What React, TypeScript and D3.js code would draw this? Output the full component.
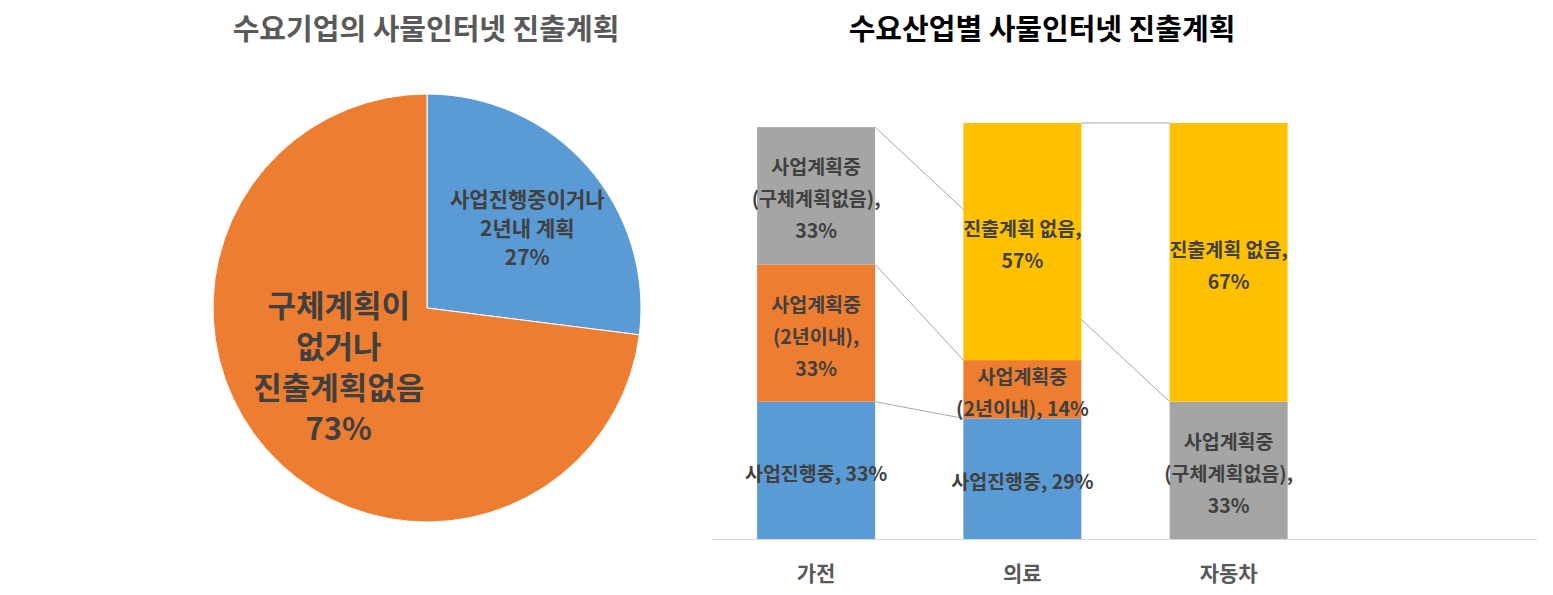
import React from "react";
import * as d3 from "d3";

const W = 1553;
const H = 595;
const FONT = "'Noto Sans CJK KR', 'Noto Sans', sans-serif";

// Left pie
const pieTitle = "수요기업의 사물인터넷 진출계획";
const pieNames = ["사업진행중이거나 2년내 계획", "구체계획이 없거나 진출계획없음"];
const pieValues = [27, 73];
const pieLabelLines = [
  ["사업진행중이거나", "2년내 계획", "27%"],
  ["구체계획이", "없거나", "진출계획없음", "73%"],
];
const pieColors = ["#5B9BD5", "#ED7D31"];

// Right stacked bars
const barTitle = "수요산업별 사물인터넷 진출계획";
const categories = ["가전", "의료", "자동차", ""];
const seriesNames = ["사업진행중", "사업계획중(2년이내)", "사업계획중(구체계획없음)", "진출계획 없음"];
const seriesColors = ["#5B9BD5", "#ED7D31", "#A5A5A5", "#FFC000"];
const sProgress: (number | null)[] = [33, 29, null, null];
const sPlan2y: (number | null)[] = [33, 14, null, null];
const sPlanVague: (number | null)[] = [33, null, 33, null];
const sNoPlan: (number | null)[] = [null, 57, 67, null];
const seriesValues = [sProgress, sPlan2y, sPlanVague, sNoPlan];
const labelLines: (string[] | null)[][] = [
  [["사업진행중, 33%"], ["사업진행중, 29%"], null, null],
  [["사업계획중", "(2년이내),", "33%"], ["사업계획중", "(2년이내), 14%"], null, null],
  [["사업계획중", "(구체계획없음),", "33%"], null, ["사업계획중", "(구체계획없음),", "33%"], null],
  [null, ["진출계획 없음,", "57%"], ["진출계획 없음,", "67%"], null],
];

export default function App() {
  // Pie
  const cx = 427, cy = 308, r = 214;
  const pie = d3.pie<number>().sort(null).value((d) => d);
  const arcs = pie(pieValues);
  const arcGen = d3.arc<d3.PieArcDatum<number>>().innerRadius(0).outerRadius(r);
  const labelRadius = [0.6 * r, 0.5 * r];

  // Bars
  const x = d3.scaleBand<string>().domain(categories.map((c, i) => i + "")).range([713, 1538]).paddingInner(0.428).paddingOuter(0.214);
  const y = d3.scaleLinear().domain([0, 100]).range([539, 123]);
  const bw = x.bandwidth();

  // stacked
  const stacks: { y0: number; y1: number; v: number | null }[][] = seriesValues.map(() => []);
  categories.forEach((_, ci) => {
    let acc = 0;
    seriesValues.forEach((s, si) => {
      const v = s[ci];
      const y0 = acc;
      acc += v ?? 0;
      stacks[si][ci] = { y0, y1: acc, v };
    });
  });

  // series lines: connect top of each series between categories where defined
  const seriesLines: { x1: number; y1: number; x2: number; y2: number; key: string }[] = [];
  seriesValues.forEach((s, si) => {
    const idx = s.map((v, i) => (v != null ? i : -1)).filter((i) => i >= 0);
    for (let k = 0; k < idx.length - 1; k++) {
      const a = idx[k], b = idx[k + 1];
      seriesLines.push({
        key: `${si}-${a}-${b}`,
        x1: (x(a + "") as number) + bw,
        y1: y(stacks[si][a].y1),
        x2: x(b + "") as number,
        y2: y(stacks[si][b].y1),
      });
    }
  });

  return (
    <svg width={W} height={H} style={{ display: "block", position: "absolute", left: 0, top: 0 }} fontFamily={FONT}>
      <rect width={W} height={H} fill="#fff" />
      {/* Pie title */}
      <text x={426} y={27} textAnchor="middle" dominantBaseline="central" fontSize={29} fontWeight={700} fill="#595959">
        {pieTitle}
      </text>
      <g transform={`translate(${cx},${cy})`}>
        {arcs.map((a, i) => (
          <path key={pieNames[i]} d={arcGen(a) || ""} fill={pieColors[i]} stroke="#fff" strokeWidth={1} />
        ))}
        {arcs.map((a, i) => {
          const mid = (a.startAngle + a.endAngle) / 2;
          const lx = labelRadius[i] * Math.sin(mid);
          const ly = -labelRadius[i] * Math.cos(mid);
          const lines = pieLabelLines[i];
          const fs = i === 0 ? 21 : 31;
          const lh = i === 0 ? 29 : 41;
          return (
            <text key={"l" + i} textAnchor="middle" fontSize={fs} fontWeight={700} fill="#404040">
              {lines.map((t, k) => (
                <tspan key={k} x={lx + (i === 1 ? -8 : 4)} y={ly + (k - (lines.length - 1) / 2) * lh + (i === 1 ? -14 : 4)} dominantBaseline="central">
                  {t}
                </tspan>
              ))}
            </text>
          );
        })}
      </g>

      {/* Bar title */}
      <text x={1042} y={27} textAnchor="middle" dominantBaseline="central" fontSize={29} fontWeight={700} fill="#000">
        {barTitle}
      </text>
      {/* series lines behind bars */}
      {seriesLines.map((l) => (
        <line key={l.key} x1={l.x1} y1={l.y1} x2={l.x2} y2={l.y2} stroke="#A6A6A6" strokeWidth={1} />
      ))}
      {seriesValues.map((s, si) =>
        s.map((v, ci) => {
          if (v == null) return null;
          const st = stacks[si][ci];
          return (
            <rect key={`${si}-${ci}`} x={x(ci + "")} y={y(st.y1)} width={bw} height={y(st.y0) - y(st.y1)} fill={seriesColors[si]} />
          );
        })
      )}
      <line x1={712} x2={1537} y1={539.5} y2={539.5} stroke="#D9D9D9" strokeWidth={1} />
      {seriesValues.map((s, si) =>
        s.map((v, ci) => {
          const lines = labelLines[si][ci];
          if (v == null || !lines) return null;
          const st = stacks[si][ci];
          const mx = (x(ci + "") as number) + bw / 2;
          const my = (y(st.y0) + y(st.y1)) / 2 + 2;
          return (
            <text key={`t${si}-${ci}`} textAnchor="middle" fontSize={19.5} fontWeight={700} fill="#404040">
              {lines.map((t, k) => (
                <tspan key={k} x={mx} y={my + (k - (lines.length - 1) / 2) * 32} dominantBaseline="central">
                  {t}
                </tspan>
              ))}
            </text>
          );
        })
      )}
      {categories.map((c, ci) => (
        <text key={"c" + ci} x={(x(ci + "") as number) + bw / 2} y={572} textAnchor="middle" dominantBaseline="central" fontSize={21} fontWeight={700} fill="#595959">
          {c}
        </text>
      ))}
    </svg>
  );
}
